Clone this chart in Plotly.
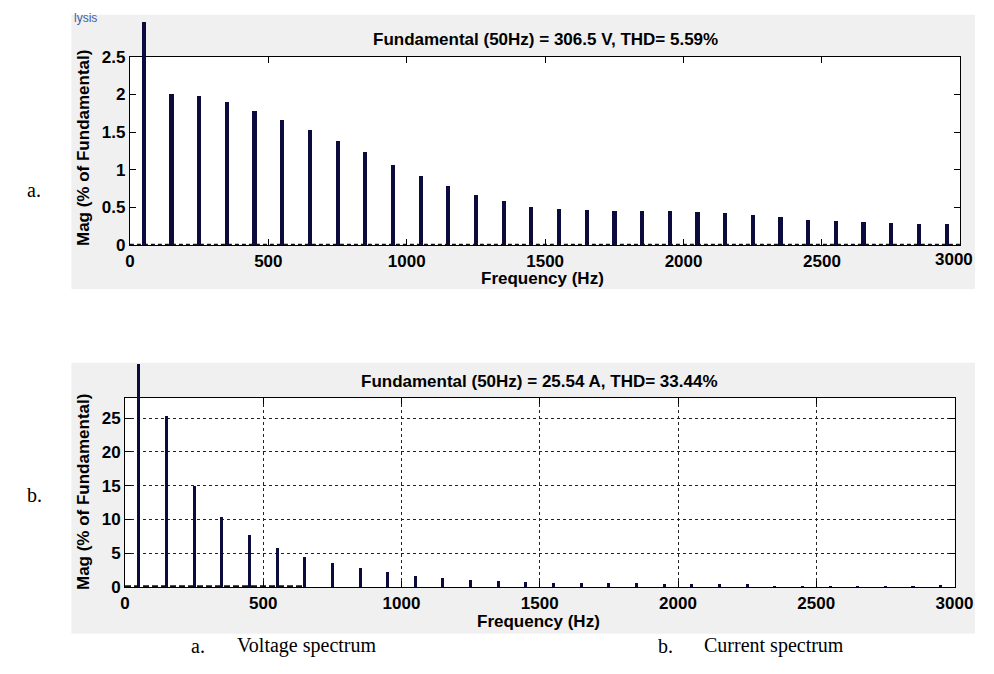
import plotly.graph_objects as go

# ---------------- data ----------------
harm_freq = [150, 250, 350, 450, 550, 650, 750, 850, 950, 1050, 1150, 1250, 1350, 1450,
             1550, 1650, 1750, 1850, 1950, 2050, 2150, 2250, 2350, 2450, 2550, 2650,
             2750, 2850, 2950]
volt_mag = [2.01, 1.98, 1.90, 1.79, 1.665, 1.53, 1.39, 1.24, 1.07, 0.925, 0.79, 0.675, 0.59,
            0.515, 0.487, 0.474, 0.461, 0.461, 0.461, 0.446, 0.432, 0.405, 0.375, 0.345,
            0.32, 0.306, 0.293, 0.28, 0.28]
curr_mag = [25.4, 15.05, 10.4, 7.74, 5.82, 4.52, 3.6, 2.84, 2.26, 1.73, 1.44, 1.15, 0.96,
            0.82, 0.63, 0.63, 0.63, 0.63, 0.48, 0.53, 0.48, 0.48, 0.29, 0.29, 0.29, 0.27,
            0.29, 0.29, 0.34]
fund_freq = [50]
fund_mag = [100]
volt_base_x = [0, 3000]
volt_base_y = [0, 0]
curr_base_x = [0, 650]
curr_base_y = [0, 0]

x_ticks = [0, 500, 1000, 1500, 2000, 2500, 3000]
x_ticktext = ["0", "500", "1000", "1500", "2000", "2500", "3000"]
volt_yticks = [0, 0.5, 1, 1.5, 2, 2.5]
volt_yticktext = ["0", "0.5", "1", "1.5", "2", "2.5"]
curr_yticks = [0, 5, 10, 15, 20, 25]

title_v = "Fundamental (50Hz) = 306.5 V, THD= 5.59%"
title_c = "Fundamental (50Hz) = 25.54 A, THD= 33.44%"
xlabel = "Frequency (Hz)"
ylabel = "Mag (% of Fundamental)"

# ---------------- geometry (pixels) ----------------
W, H = 994, 674
def px(x):
    return x / W
def py(y):
    return 1 - y / H

BAR = "#0b0b3d"
AX_FONT = dict(family="Liberation Sans, Arial", size=17, color="black", weight="bold")

# top axes: x 128..979, y 49..243 ; extended top at 13
t_l, t_r, t_t, t_b, t_ext = 128, 979, 49, 243, 13
# bottom axes: x 123..973, y 400..595 ; extended top at 365
b_l, b_r, b_t, b_b, b_ext = 123, 973, 400, 595, 365

v_max, c_max = 2.5, 28
v_ext = v_max * (t_b - t_ext) / (t_b - t_t)
c_ext = c_max * (b_b - b_ext) / (b_b - b_t)

fig = go.Figure()

# baseline (tiny bins)
fig.add_trace(go.Scatter(x=volt_base_x, y=volt_base_y, mode="lines", xaxis="x", yaxis="y",
                         line=dict(color="#111", width=3, dash="4px,3px"), hoverinfo="skip"))
fig.add_trace(go.Scatter(x=curr_base_x, y=curr_base_y, mode="lines", xaxis="x2", yaxis="y2",
                         line=dict(color="#111", width=4, dash="6px,3px"), hoverinfo="skip"))

fig.add_trace(go.Bar(x=harm_freq, y=volt_mag, width=15, marker=dict(color=BAR, line_width=0),
                     xaxis="x", yaxis="y"))
fig.add_trace(go.Bar(x=harm_freq, y=curr_mag, width=11, marker=dict(color=BAR, line_width=0),
                     xaxis="x2", yaxis="y2"))
# fundamentals (100 %) run off the top of the axes, cut at the panel edge as in the original
fig.add_trace(go.Bar(x=fund_freq, y=[min(v, v_ext) for v in fund_mag], width=15,
                     customdata=fund_mag, hovertemplate="%{customdata}%",
                     marker=dict(color=BAR, line_width=0), xaxis="x3", yaxis="y3"))
fig.add_trace(go.Bar(x=fund_freq, y=[min(v, c_ext) for v in fund_mag], width=11,
                     customdata=fund_mag, hovertemplate="%{customdata}%",
                     marker=dict(color=BAR, line_width=0), xaxis="x4", yaxis="y4"))

common_x = dict(range=[0, 3000], tickvals=x_ticks, ticks="inside", ticklen=6, tickcolor="black",
                showline=True, linecolor="black", linewidth=1, mirror="ticks", zeroline=False,
                tickfont=AX_FONT, fixedrange=True)
common_y = dict(ticks="inside", ticklen=6, tickcolor="black", showline=True, linecolor="black",
                linewidth=1, mirror="ticks", zeroline=False, tickfont=AX_FONT, fixedrange=True)

shapes = [
    dict(type="rect", xref="paper", yref="paper", x0=px(68), x1=1, y0=py(288), y1=py(6),
         fillcolor="#f0f0f0", line_width=0, layer="below"),
    dict(type="rect", xref="paper", yref="paper", x0=px(68), x1=1, y0=py(643), y1=py(364),
         fillcolor="#f0f0f0", line_width=0, layer="below"),
    dict(type="rect", xref="paper", yref="paper", x0=px(t_l), x1=px(t_r), y0=py(t_b), y1=py(t_t),
         fillcolor="white", line_width=0, layer="below"),
    dict(type="rect", xref="paper", yref="paper", x0=px(b_l), x1=px(b_r), y0=py(b_b), y1=py(b_t),
         fillcolor="white", line_width=0, layer="below"),
]

ann_font = dict(family="Liberation Sans, Arial", size=17, color="black", weight="bold")
serif = dict(family="Liberation Serif, Times New Roman", size=20, color="black")
annotations = [
    dict(text=title_v, x=px((t_l + t_r) / 2), y=py(31), xref="paper", yref="paper",
         showarrow=False, font=ann_font, xanchor="center", yanchor="middle"),
    dict(text=title_c, x=px((b_l + b_r) / 2), y=py(383), xref="paper", yref="paper",
         showarrow=False, font=ann_font, xanchor="center", yanchor="middle"),
    dict(text=xlabel, x=px(551), y=py(277), xref="paper", yref="paper",
         showarrow=False, font=ann_font, xanchor="center", yanchor="middle"),
    dict(text=xlabel, x=px(547), y=py(630), xref="paper", yref="paper",
         showarrow=False, font=ann_font, xanchor="center", yanchor="middle"),
    dict(text=ylabel, x=px(81), y=py(143), xref="paper", yref="paper", textangle=-90,
         showarrow=False, font=ann_font, xanchor="center", yanchor="middle"),
    dict(text=ylabel, x=px(81), y=py(497), xref="paper", yref="paper", textangle=-90,
         showarrow=False, font=ann_font, xanchor="center", yanchor="middle"),
    # last tick label of the top chart sits on the page edge; keep it inside the page
    dict(text=x_ticktext[-1], x=1, y=py(t_b + 3), xref="paper", yref="paper",
         showarrow=False, font=AX_FONT, xanchor="right", yanchor="top"),
    dict(text="lysis", x=px(69), y=1, xref="paper", yref="paper",
         showarrow=False, font=dict(family="Liberation Sans, Arial", size=12, color="#4a5a9e"),
         xanchor="left", yanchor="top"),
    dict(text="a.", x=px(20), y=py(186), xref="paper", yref="paper",
         showarrow=False, font=serif, xanchor="left", yanchor="middle"),
    dict(text="b.", x=px(20), y=py(500), xref="paper", yref="paper",
         showarrow=False, font=serif, xanchor="left", yanchor="middle"),
    dict(text="a.", x=px(189), y=py(655), xref="paper", yref="paper",
         showarrow=False, font=serif, xanchor="left", yanchor="middle"),
    dict(text="Voltage spectrum", x=px(236), y=py(655), xref="paper", yref="paper",
         showarrow=False, font=serif, xanchor="left", yanchor="middle"),
    dict(text="b.", x=px(667), y=py(655), xref="paper", yref="paper",
         showarrow=False, font=serif, xanchor="left", yanchor="middle"),
    dict(text="Current spectrum", x=px(714), y=py(655), xref="paper", yref="paper",
         showarrow=False, font=serif, xanchor="left", yanchor="middle"),
]

fig.update_layout(
    width=W, height=H, margin=dict(l=0, r=0, t=0, b=0),
    paper_bgcolor="white", plot_bgcolor="rgba(0,0,0,0)",
    showlegend=False, bargap=0,
    xaxis=dict(common_x, domain=[px(t_l), px(t_r)], anchor="y", showgrid=False,
               ticktext=x_ticktext[:-1] + [""]),
    yaxis=dict(common_y, domain=[py(t_b), py(t_t)], anchor="x", range=[0, v_max],
               tickvals=volt_yticks, ticktext=volt_yticktext, showgrid=False),
    xaxis2=dict(common_x, domain=[px(b_l), px(b_r)], anchor="y2", showgrid=True,
                ticktext=x_ticktext,
                gridcolor="#222", gridwidth=1, griddash="3px,3px"),
    yaxis2=dict(common_y, domain=[py(b_b), py(b_t)], anchor="x2", range=[0, c_max],
                tickvals=curr_yticks, showgrid=True, gridcolor="#222", gridwidth=1,
                griddash="3px,3px"),
    xaxis3=dict(domain=[px(t_l), px(t_r)], range=[0, 3000], anchor="y3", visible=False,
                fixedrange=True),
    yaxis3=dict(domain=[py(t_b), py(t_ext)], range=[0, v_ext], anchor="x3", visible=False,
                fixedrange=True),
    xaxis4=dict(domain=[px(b_l), px(b_r)], range=[0, 3000], anchor="y4", visible=False,
                fixedrange=True),
    yaxis4=dict(domain=[py(b_b), py(b_ext)], range=[0, c_ext], anchor="x4", visible=False,
                fixedrange=True),
    shapes=shapes, annotations=annotations,
)

fig.write_html("out.html")
